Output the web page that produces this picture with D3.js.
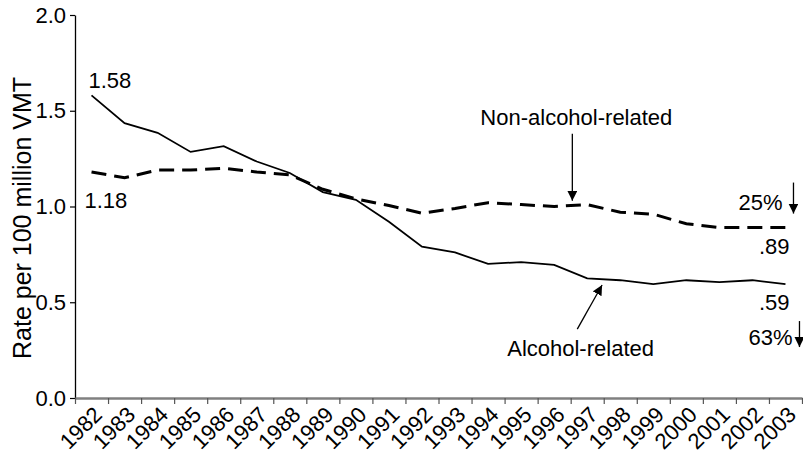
<!DOCTYPE html>
<html>
<head>
<meta charset="utf-8">
<script src="https://cdn.jsdelivr.net/npm/d3@7"></script>
<style>
  body { margin: 0; background: #fff; }
  svg text { font-family: "Liberation Sans", Arial, sans-serif; fill: #000; }
</style>
</head>
<body>
<div id="chart"></div>
<script>
const years = ["1982","1983","1984","1985","1986","1987","1988","1989","1990","1991","1992",
               "1993","1994","1995","1996","1997","1998","1999","2000","2001","2002","2003"];
const alcohol = [1.58,1.435,1.385,1.285,1.315,1.235,1.175,1.075,1.035,0.92,0.79,
                 0.76,0.70,0.71,0.695,0.625,0.615,0.595,0.615,0.605,0.615,0.595];
const nonAlcohol = [1.18,1.15,1.19,1.19,1.20,1.18,1.165,1.09,1.04,1.005,0.965,
                    0.99,1.02,1.01,1.00,1.01,0.97,0.96,0.91,0.89,0.89,0.89];
const yTicks = [0, 0.5, 1.0, 1.5, 2.0];

const width = 803, height = 456;
const margin = {top: 15, right: 1, bottom: 58, left: 75};
const fs = 22;

const svg = d3.select("#chart").append("svg")
  .attr("width", width)
  .attr("height", height);

// edges of the yearly slots; points sit in the middle of each slot
const xEdge = d3.scaleLinear()
  .domain([0, years.length])
  .range([margin.left, width - margin.right]);
const xMid = i => xEdge(i + 0.5);

const y = d3.scaleLinear()
  .domain([0, 2])
  .range([height - margin.bottom, margin.top]);

// y axis
const yAxis = svg.append("g")
  .attr("transform", `translate(${margin.left},0)`)
  .call(d3.axisLeft(y).tickValues(yTicks).tickFormat(d3.format(".1f")).tickSize(5).tickSizeOuter(0).tickPadding(4));
yAxis.select(".domain").attr("stroke", "#000").attr("stroke-width", 1.3);
yAxis.selectAll(".tick line").attr("stroke", "#000").attr("stroke-width", 1.2);
yAxis.selectAll("text").attr("font-size", fs).attr("fill", "#000");

// x axis (gray), ticks on slot edges
const xAxis = svg.append("g")
  .attr("transform", `translate(0,${y(0)})`)
  .call(d3.axisBottom(xEdge).tickValues(d3.range(years.length + 1)).tickFormat("").tickSize(6).tickSizeOuter(0));
xAxis.select(".domain").attr("stroke", "#808080").attr("stroke-width", 2.4);
xAxis.selectAll(".tick line").attr("stroke", "#555").attr("stroke-width", 1.2);

svg.append("g").selectAll("text")
  .data(years)
  .join("text")
  .attr("transform", (d, i) => `translate(${xMid(i) + 12},${y(0) + 18}) rotate(-45)`)
  .attr("text-anchor", "end")
  .attr("font-size", fs)
  .text(d => d);

// y label
svg.append("text")
  .attr("transform", `translate(31,${y(0.94)}) rotate(-90)`)
  .attr("text-anchor", "middle")
  .attr("font-size", 25)
  .text("Rate per 100 million VMT");

const line = d3.line()
  .x((d, i) => xMid(i))
  .y(d => y(d));

svg.append("path")
  .datum(nonAlcohol)
  .attr("fill", "none")
  .attr("stroke", "#000")
  .attr("stroke-width", 3)
  .attr("stroke-dasharray", "15,8")
  .attr("d", line);

svg.append("path")
  .datum(alcohol)
  .attr("fill", "none")
  .attr("stroke", "#000")
  .attr("stroke-width", 1.8)
  .attr("d", line);

// arrowhead
svg.append("defs").append("marker")
  .attr("id", "head")
  .attr("viewBox", "0 0 10 10")
  .attr("refX", 10).attr("refY", 5)
  .attr("markerWidth", 10).attr("markerHeight", 10)
  .attr("markerUnits", "userSpaceOnUse")
  .attr("orient", "auto")
  .append("path")
  .attr("d", "M0,0L10,5L0,10Z")
  .attr("fill", "#000");

const last = years.length - 1;
const label = (txt, x, yy, anchor) => svg.append("text")
  .attr("x", x).attr("y", yy)
  .attr("text-anchor", anchor || "start")
  .attr("font-size", fs)
  .text(txt);

label(alcohol[0].toFixed(2), xMid(0) - 3, y(alcohol[0]) - 7);
label(nonAlcohol[0].toFixed(2), xMid(0) - 7, y(nonAlcohol[0]) + 36);
label(".89", xMid(last) + 4, y(nonAlcohol[last]) + 26, "end");
label(".59", xMid(last) + 4, y(alcohol[last]) + 26, "end");
label("25%", xMid(last) - 3, y(nonAlcohol[last]) - 18, "end");
label("63%", xMid(last) + 7, y(alcohol[last]) + 61, "end");

const arrow = (x1, y1, x2, y2) => svg.append("line")
  .attr("x1", x1).attr("y1", y1).attr("x2", x2).attr("y2", y2)
  .attr("stroke", "#000").attr("stroke-width", 1.3)
  .attr("marker-end", "url(#head)");

// Non-alcohol-related callout, pointing at the 1997 dip
const nx = xEdge(15.05);
label("Non-alcohol-related", nx + 4, y(1.425), "middle");
arrow(nx, y(1.38), nx, y(1.03));

// Alcohol-related callout
label("Alcohol-related", xEdge(15.3), y(0.22), "middle");
arrow(xEdge(15.2), y(0.36), xEdge(15.95), y(0.59));

// percentage decline arrows
arrow(xMid(last) + 8, y(nonAlcohol[last]) - 45, xMid(last) + 8, y(nonAlcohol[last]) - 14);
arrow(xMid(last) + 14, y(alcohol[last]) + 37, xMid(last) + 14, y(alcohol[last]) + 63);
</script>
</body>
</html>
